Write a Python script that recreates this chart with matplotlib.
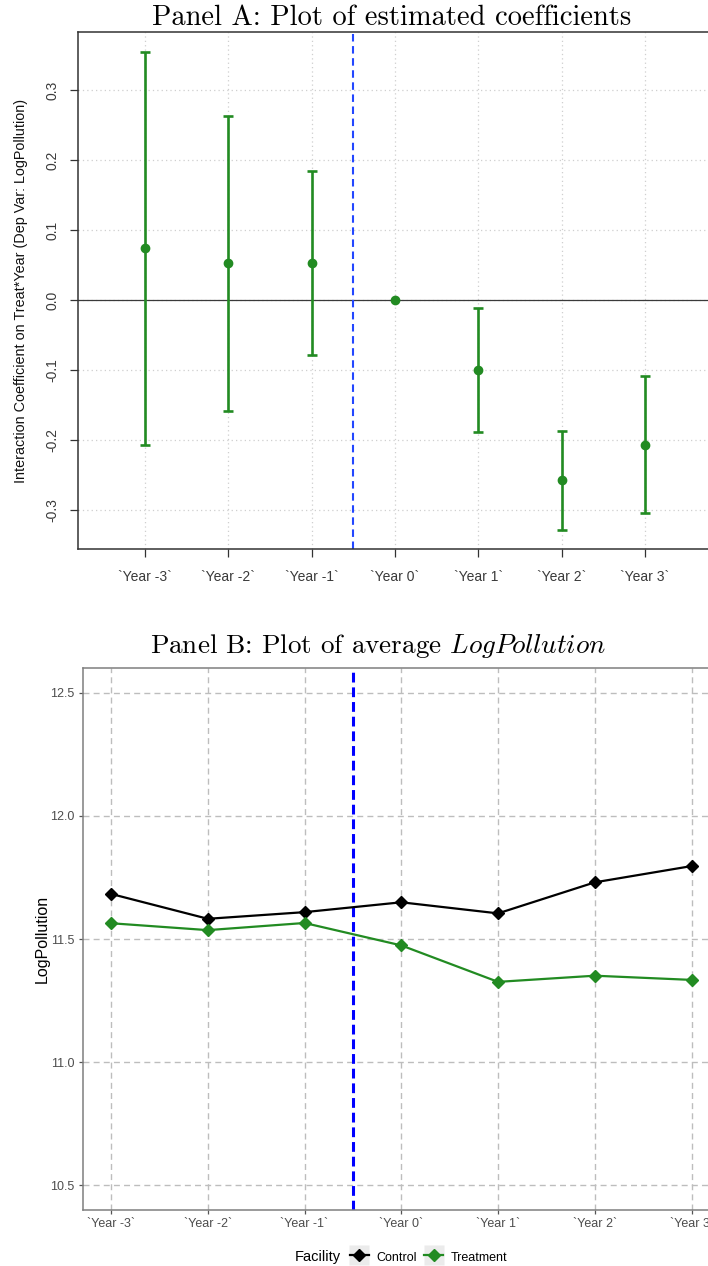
import numpy as np
import matplotlib
matplotlib.use("Agg")
import matplotlib.pyplot as plt
from matplotlib.lines import Line2D
from matplotlib.legend_handler import HandlerTuple

# ---------------- data ----------------
years = ["`Year -3`", "`Year -2`", "`Year -1`", "`Year 0`", "`Year 1`", "`Year 2`", "`Year 3`"]
coef = [0.074, 0.053, 0.053, 0.0, -0.100, -0.258, -0.207]
ci_low = [-0.207, -0.159, -0.079, np.nan, -0.189, -0.329, -0.305]
ci_high = [0.354, 0.263, 0.184, np.nan, -0.011, -0.187, -0.108]
a_yticks = [-0.3, -0.2, -0.1, 0.0, 0.1, 0.2, 0.3]

control = [11.683, 11.582, 11.609, 11.649, 11.604, 11.730, 11.796]
treatment = [11.564, 11.536, 11.565, 11.474, 11.326, 11.351, 11.334]
b_yticks = [10.5, 11.0, 11.5, 12.0, 12.5]
groups = ["Control", "Treatment"]
legend_title = "Facility"

# ---------------- style ----------------
plt.rcParams['font.family'] = ['Liberation Sans', 'DejaVu Sans']
plt.rcParams['mathtext.fontset'] = 'cm'
plt.rcParams['axes.unicode_minus'] = False

W, H = 708, 1266
fig = plt.figure(figsize=(W / 100, H / 100), dpi=100)
green = '#228B22'

def fx(px):
    return px / W

def fy(py):
    return 1 - py / H

x = np.arange(1, len(years) + 1)

# ---------------- Panel A ----------------
aL, aR, aT, aB = 78, 712, 32, 549
axA = fig.add_axes([fx(aL), fy(aB), (aR - aL) / W, (aB - aT) / H])
axA.set_xlim(0.196, 7.804)
axA.set_ylim(-0.356, 0.383)
axA.set_axisbelow(True)
axA.grid(True, color='#CFCFCF', linestyle=(0, (1, 2.5)), linewidth=0.9)
axA.axhline(0, color='#3A3A3A', lw=0.9, zorder=1.5)
axA.axvline(3.5, color='#2347FF', lw=1.5, dashes=(3.6, 2.2), zorder=1.6)

c = np.array(coef, float)
lo = np.array(ci_low, float)
hi = np.array(ci_high, float)
yerr = np.vstack([c - lo, hi - c])
axA.errorbar(x, c, yerr=yerr, fmt='o', color=green, ms=6, elinewidth=1.9,
             capsize=3.4, capthick=1.9, zorder=3)

axA.set_xticks(x, labels=years)
axA.set_yticks(a_yticks, labels=[f"{v:.1f}" for v in a_yticks])
axA.tick_params(axis='both', length=5.8, width=0.9, color='#333333',
                labelcolor='#3A3A3A', labelsize=10)
axA.tick_params(axis='x', pad=9)
axA.tick_params(axis='y', pad=7.5, labelrotation=90)
for lab in axA.get_yticklabels():
    lab.set_va('center')
for s in ['left', 'bottom', 'top']:
    axA.spines[s].set_color('#333333')
    axA.spines[s].set_linewidth(1.1)
axA.spines['right'].set_visible(False)
axA.set_ylabel("Interaction Coefficient on Treat*Year (Dep Var: LogPollution)",
               fontsize=10.4, color='#111111')
axA.yaxis.set_label_coords((21 - aL) / (aR - aL), 0.5)
axA.yaxis.label.set_va('center')

fig.text(fx(392), fy(18), "Panel A: Plot of estimated coefficients",
         family='cmr10', fontsize=20.5, ha='center', va='center')

# ---------------- Panel B ----------------
bL, bR, bT, bB = 82.6, 720, 668, 1210
axB = fig.add_axes([fx(bL), fy(bB), (bR - bL) / W, (bB - bT) / H])
axB.set_xlim(0.706, 7.294)
axB.set_ylim(10.4, 12.6)
axB.set_axisbelow(True)
axB.grid(True, color='#BDBDBD', linestyle=(0, (4.3, 3.0)), linewidth=1.0)
axB.axvline(3.5, color='#0000FF', lw=2.2, dashes=(3.2, 1.6), zorder=1.6)
axB.plot(x, control, color='black', lw=1.6, marker='D', ms=6,
         label=groups[0], zorder=3)
axB.plot(x, treatment, color=green, lw=1.6, marker='D', ms=6,
         label=groups[1], zorder=3)

axB.set_xticks(x, labels=years)
axB.set_yticks(b_yticks, labels=[f"{v:.1f}" for v in b_yticks])
axB.tick_params(axis='both', length=3.2, width=0.9, color='#555555',
                labelcolor='#4D4D4D', labelsize=9, pad=2.5)
for s in ['left', 'bottom', 'top', 'right']:
    axB.spines[s].set_color('#7F7F7F')
    axB.spines[s].set_linewidth(1.1)
axB.set_ylabel("LogPollution", fontsize=11.5, color='black')
axB.yaxis.set_label_coords((42 - bL) / (bR - bL), 0.5)
axB.yaxis.label.set_va('center')

fig.text(fx(378), fy(646), "Panel B: Plot of average $LogPollution$",
         family='cmr10', fontsize=19.5, ha='center', va='center')

# ---------------- legend ----------------
fig.text(fx(318), fy(1257), legend_title, fontsize=10.5, ha='center', va='center')
def key_bg():
    return Line2D([], [], linestyle='none', marker='s', ms=14,
                  markerfacecolor='#EBEBEB', markeredgecolor='none')
handles = [(key_bg(), Line2D([], [], color='black', lw=1.6, marker='D', ms=6)),
           (key_bg(), Line2D([], [], color=green, lw=1.6, marker='D', ms=6))]
fig.legend(handles, groups, handler_map={tuple: HandlerTuple(ndivide=1)},
           loc='center left', bbox_to_anchor=(fx(350), fy(1257)), ncol=2,
           frameon=False, fontsize=9, borderpad=0, borderaxespad=0,
           handlelength=1.5, handleheight=1.5, handletextpad=0.6,
           columnspacing=0.6)

fig.savefig("out.png", dpi=100)
